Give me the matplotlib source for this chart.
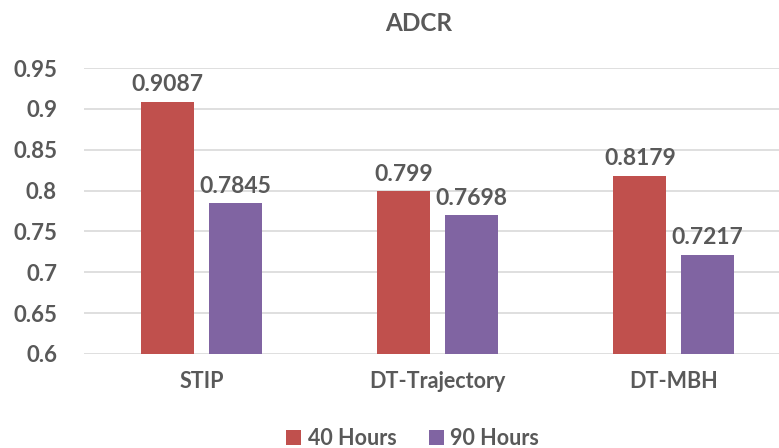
import numpy as np
import matplotlib.pyplot as plt

plt.rcParams['font.family'] = ['Lato', 'DejaVu Sans']
plt.rcParams['font.weight'] = 'bold'

categories = ['STIP', 'DT-Trajectory', 'DT-MBH']
hours40 = [0.9087, 0.799, 0.8179]
hours90 = [0.7845, 0.7698, 0.7217]
labels40 = ['0.9087', '0.799', '0.8179']
labels90 = ['0.7845', '0.7698', '0.7217']

red = '#C0504D'
purple = '#8064A2'
txt = '#595959'

fig = plt.figure(figsize=(7.79, 4.48), dpi=100)
# plot area runs slightly past the right edge, like the original
ax = fig.add_axes([83.5 / 779, 0.21, 708 / 779, 0.638])

x = np.arange(len(categories))
w = 0.225
off = w / 2 + 0.03
b1 = ax.bar(x - off, hours40, w, color=red, label='40 Hours', zorder=3)
b2 = ax.bar(x + off, hours90, w, color=purple, label='90 Hours', zorder=3)

for bars, labs in ((b1, labels40), (b2, labels90)):
    for b, l in zip(bars, labs):
        ax.text(b.get_x() + b.get_width() / 2, b.get_height() + 0.008, l,
                ha='center', va='bottom', fontsize=16.5, fontweight='bold', color=txt)

ax.set_ylim(0.6, 0.95)
ax.set_xlim(-0.5, 2.5)
ax.set_yticks([0.6, 0.65, 0.7, 0.75, 0.8, 0.85, 0.9, 0.95])
ax.set_yticklabels(['0.6', '0.65', '0.7', '0.75', '0.8', '0.85', '0.9', '0.95'])
ax.set_xticks(x)
ax.set_xticklabels(categories)
ax.tick_params(axis='y', length=0, labelsize=16, colors=txt, pad=19)
ax.tick_params(axis='x', length=0, labelsize=15.5, colors=txt, pad=12)
ax.yaxis.grid(True, color='#D9D9D9', linewidth=1.2, zorder=0)
for s in ax.spines.values():
    s.set_visible(False)

fig.text(0.537, 0.948, 'ADCR', ha='center', va='center', fontsize=17.5,
         fontweight='bold', color=txt)
fig.legend(loc='center', bbox_to_anchor=(0.53, 0.022), ncol=2, frameon=False,
           fontsize=15.5, handlelength=0.7, handleheight=0.7, handletextpad=0.3,
           columnspacing=1.5, labelcolor=txt)

fig.savefig('out.png', dpi=100)
